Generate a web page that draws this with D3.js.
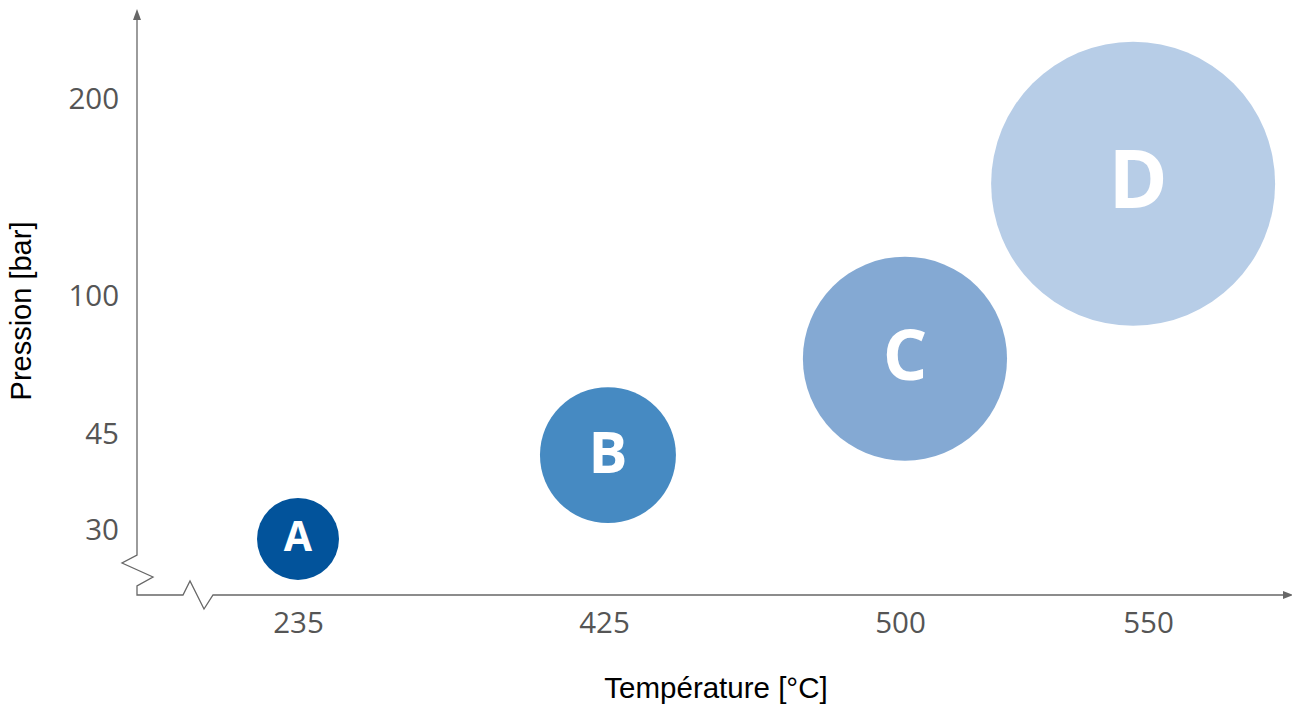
<!DOCTYPE html>
<html>
<head>
<meta charset="utf-8">
<script src="https://cdn.jsdelivr.net/npm/d3@7"></script>
<style>
  html, body { margin: 0; padding: 0; background: #fff; }
  svg { display: block; }
</style>
</head>
<body>
<svg id="chart" width="1292" height="708"></svg>
<script>
// ---- data ----
const labels = ["A", "B", "C", "D"];
const temperature = [235, 426, 501, 547];      // °C
const pressure = [28.6, 41.7, 75, 157];        // bar
const bubbleSize = [1, 2.75, 6.2, 12];          // relative size
const xTicks = [235, 425, 500, 550];
const yTicks = [30, 45, 100, 200];

// ---- styles ----
const colors = ["#02539B", "#468AC2", "#84A9D3", "#B7CDE7"];
const labelFont = [41, 58, 70, 80];
const axisColor = "#676767";
const tickColor = "#555555";

const svg = d3.select("#chart");

// piecewise (schematic) scales
const x = d3.scaleLinear().domain(xTicks).range([298, 604, 900, 1148]);
const y = d3.scaleLinear().domain(yTicks).range([530, 434, 296, 99]);
const r = d3.scaleSqrt().domain([0, 12]).range([0, 142]);

const x0 = 137, y0 = 595;

// ---- bubbles ----
const data = labels.map((l, i) => ({l, t: temperature[i], p: pressure[i], s: bubbleSize[i], c: colors[i], f: labelFont[i]}));
const g = svg.append("g");
g.selectAll("circle").data(data).join("circle")
  .attr("cx", d => x(d.t))
  .attr("cy", d => y(d.p))
  .attr("r", d => r(d.s))
  .attr("fill", d => d.c);
g.selectAll("text").data(data).join("text")
  .attr("x", d => x(d.t) + (d.l === "D" ? 5 : 0))
  .attr("y", d => y(d.p) - d.f * 0.06)
  .attr("text-anchor", "middle")
  .attr("dy", "0.36em")
  .attr("font-family", "'Open Sans', sans-serif")
  .attr("font-weight", 700)
  .attr("font-size", d => d.f)
  .attr("fill", "#fff")
  .text(d => d.l);

// ---- axes lines with breaks ----
const line = d3.line();
svg.append("path")
  .attr("d", line([[x0, 14], [x0, 555], [122, 563], [153, 577], [x0, 586], [x0, y0],
                   [183, y0], [190, 581], [204, 609], [213, y0], [1286, y0]]))
  .attr("fill", "none").attr("stroke", axisColor).attr("stroke-width", 1.3);
// arrow heads
svg.append("path").attr("d", line([[x0 - 4, 20], [x0, 9], [x0 + 4, 20]]) + "Z").attr("fill", axisColor);
svg.append("path").attr("d", line([[1283, y0 - 4], [1293, y0], [1283, y0 + 4]]) + "Z").attr("fill", axisColor);

// ---- tick labels via d3 axes ----
const xAxis = svg.append("g").attr("transform", `translate(0,${y0})`)
  .call(d3.axisBottom(x).tickValues(xTicks).tickSize(0).tickPadding(17).tickFormat(d3.format("d")));
const yAxis = svg.append("g").attr("transform", `translate(${x0},0)`)
  .call(d3.axisLeft(y).tickValues(yTicks).tickSize(0).tickPadding(18).tickFormat(d3.format("d")));
[xAxis, yAxis].forEach(a => {
  a.select(".domain").remove();
  a.selectAll("text")
    .attr("font-family", "'Open Sans', sans-serif")
    .attr("font-size", 29.5)
    .attr("fill", tickColor);
});

// ---- axis titles ----
svg.append("text")
  .attr("x", 716).attr("y", 698)
  .attr("text-anchor", "middle")
  .attr("font-family", "'Liberation Sans', Arial, sans-serif")
  .attr("font-size", 29.5)
  .attr("fill", "#000")
  .text("Température [°C]");
svg.append("text")
  .attr("transform", "translate(31,311) rotate(-90)")
  .attr("text-anchor", "middle")
  .attr("font-family", "'Liberation Sans', Arial, sans-serif")
  .attr("font-size", 29)
  .attr("fill", "#000")
  .text("Pression [bar]");
</script>
</body>
</html>
